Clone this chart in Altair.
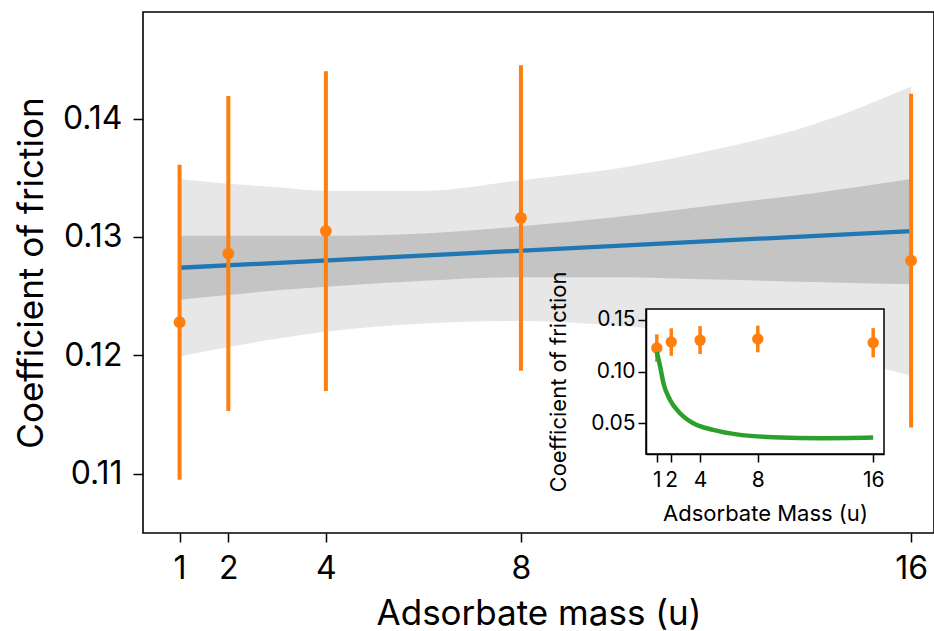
import altair as alt
import pandas as pd

# ---- data ----
mass = [1, 2, 4, 8, 16]
mu = [0.1228, 0.1286, 0.1305, 0.1316, 0.1280]
mu_err = [0.0133, 0.0133, 0.0135, 0.0129, 0.0141]

fit_x = [1, 16]
fit_y = [0.1274, 0.1305]

band_x = [1, 2, 3, 4, 6, 8, 10, 12, 14, 16]
outer_lo = [0.1199, 0.1207, 0.1214, 0.1220, 0.1227, 0.1229, 0.1225, 0.1216, 0.1202, 0.1183]
inner_lo = [0.1247, 0.1251, 0.1255, 0.1258, 0.1263, 0.1266, 0.1266, 0.1264, 0.1262, 0.1260]
inner_hi = [0.1301, 0.1301, 0.1301, 0.1301, 0.1303, 0.1309, 0.1317, 0.1327, 0.1337, 0.1349]
outer_hi = [0.1349, 0.1345, 0.1342, 0.1339, 0.1339, 0.1348, 0.1358, 0.1374, 0.1395, 0.1427]

curve_x = [1, 1.23, 1.46, 1.92, 2.61, 3.53, 4.91, 6.76, 9.06, 12.5, 16]
curve_y = [0.119, 0.1049, 0.0888, 0.0726, 0.0598, 0.0500, 0.0436, 0.0388, 0.0365, 0.0356, 0.0362]

x_ticks = [1, 2, 4, 8, 16]
main_y_ticks = [0.11, 0.12, 0.13, 0.14]
inset_y_ticks = [0.05, 0.10, 0.15]

main_xlim = [0.25, 16.47]
main_ylim = [0.105, 0.149]
inset_xlim = [0.25, 16.75]
inset_ylim = [0.0203, 0.1606]

FONT = "Inter"
ORANGE = "#ff7f0e"

pts = pd.DataFrame({"x": mass, "mu": mu,
                    "lo": [m - e for m, e in zip(mu, mu_err)],
                    "hi": [m + e for m, e in zip(mu, mu_err)]})
bands = pd.DataFrame({"x": band_x, "olo": outer_lo, "ilo": inner_lo,
                      "ihi": inner_hi, "ohi": outer_hi})
fit = pd.DataFrame({"x": fit_x, "y": fit_y})
curve = pd.DataFrame({"x": curve_x, "y": curve_y})
frame = pd.DataFrame({"x0": [inset_xlim[0]], "x1": [inset_xlim[1]],
                      "y0": [inset_ylim[0]], "y1": [inset_ylim[1]]})

W, H = 791, 521

# ---- main panel ----
mx_scale = alt.Scale(domain=main_xlim, nice=False, zero=False)
my_scale = alt.Scale(domain=main_ylim, nice=False, zero=False)
mx_axis = alt.Axis(values=x_ticks, format="d", title="Adsorbate mass (u)", grid=False,
                   domain=False, tickSize=9, tickWidth=1.5, tickColor="black",
                   labelFontSize=32, titleFontSize=35, labelPadding=11, titlePadding=12,
                   labelFlush=False, labelOverlap=False, labelColor="black",
                   titleColor="black", titleFontWeight="normal", labelFont=FONT, titleFont=FONT)
my_axis = alt.Axis(values=main_y_ticks, format=".2f", title="Coefficient of friction",
                   grid=False, domain=False, tickSize=10, tickWidth=1.5, tickColor="black",
                   labelFontSize=32, titleFontSize=35, labelPadding=11, titlePadding=13,
                   labelFlush=False, labelOverlap=False, labelColor="black",
                   titleColor="black", titleFontWeight="normal", labelFont=FONT, titleFont=FONT)

def MX(f="x"):
    return alt.X(f"{f}:Q", scale=mx_scale, axis=mx_axis)

def MY(f):
    return alt.Y(f"{f}:Q", scale=my_scale, axis=my_axis)

outer = alt.Chart(bands).mark_area(color="#e7e7e7", opacity=1, interpolate="monotone").encode(
    x=MX(), y=MY("olo"), y2="ohi:Q")
inner = alt.Chart(bands).mark_area(color="#c4c4c4", opacity=1, interpolate="monotone").encode(
    x=MX(), y=MY("ilo"), y2="ihi:Q")
line = alt.Chart(fit).mark_line(color="#1f77b4", strokeWidth=4.3).encode(x=MX(), y=MY("y"))
bars = alt.Chart(pts).mark_rule(color=ORANGE, strokeWidth=4).encode(x=MX(), y=MY("lo"), y2="hi:Q")
dots = alt.Chart(pts).mark_circle(color=ORANGE, opacity=1, size=140).encode(x=MX(), y=MY("mu"))
main = alt.layer(outer, inner, line, bars, dots)

# ---- inset ----
ix_scale = alt.Scale(domain=inset_xlim, range=[503, 741], nice=False, zero=False)
iy_scale = alt.Scale(domain=inset_ylim, range=[442, 297], nice=False, zero=False)
ix_axis = alt.Axis(values=x_ticks, format="d", title="Adsorbate Mass (u)", grid=False, orient="bottom",
                   offset=-79, domain=True, domainColor="black", domainWidth=1.5,
                   tickSize=8, tickWidth=1.5, tickColor="black",
                   labelFontSize=21, titleFontSize=22, labelPadding=7, titlePadding=13,
                   labelFlush=False, labelOverlap=False, labelColor="black",
                   titleColor="black", titleFontWeight="normal", labelFont=FONT, titleFont=FONT, zindex=1)
iy_axis = alt.Axis(values=inset_y_ticks, format=".2f", title="Coefficient of friction", grid=False,
                   orient="left", offset=-503, domain=True, domainColor="black", domainWidth=1.5,
                   tickSize=8, tickWidth=1.5, tickColor="black",
                   labelFontSize=21, titleFontSize=22, labelPadding=3, titlePadding=20,
                   labelFlush=False, labelOverlap=False, labelColor="black",
                   titleColor="black", titleFontWeight="normal", labelFont=FONT, titleFont=FONT, zindex=1)

def IX(f="x"):
    return alt.X(f"{f}:Q", scale=ix_scale, axis=ix_axis)

def IY(f):
    return alt.Y(f"{f}:Q", scale=iy_scale, axis=iy_axis)

box = alt.Chart(frame).mark_rect(fill="white", stroke="black", strokeWidth=1.5).encode(
    x=IX("x0"), x2="x1:Q", y=IY("y0"), y2="y1:Q")
ibars = alt.Chart(pts).mark_rule(color=ORANGE, strokeWidth=3.5).encode(x=IX(), y=IY("lo"), y2="hi:Q")
idots = alt.Chart(pts).mark_circle(color=ORANGE, opacity=1, size=130).encode(x=IX(), y=IY("mu"))
icurve = alt.Chart(curve).mark_line(color="#2ca02c", strokeWidth=4.5, interpolate="monotone").encode(
    x=IX(), y=IY("y"))
inset = alt.layer(box, ibars, idots, icurve)

chart = alt.layer(main, inset).resolve_scale(x="independent", y="independent").properties(
    width=W, height=H,
    autosize=alt.AutoSizeParams(type="none"),
    padding={"left": 143, "top": 12, "right": 0, "bottom": 98},
    background="white",
).configure_view(stroke="black", strokeWidth=1.6)

chart.save("out.html", embed_options={"renderer": "svg", "actions": False})
